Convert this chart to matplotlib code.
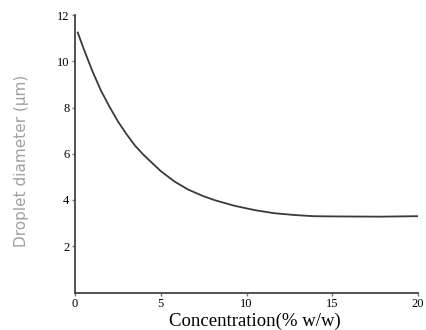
import numpy as np
import matplotlib
matplotlib.use("Agg")
import matplotlib.pyplot as plt

concentration = [0.16, 0.5, 1.0, 1.5, 2.0, 2.5, 3.0, 3.5, 4.0, 4.5, 5.0, 5.8,
                 6.6, 7.5, 8.2, 9.3, 10.5, 11.6, 12.8, 13.9, 15.0, 17.8, 20.0]
diameter = [11.24, 10.55, 9.6, 8.75, 8.05, 7.4, 6.85, 6.35, 5.95, 5.6, 5.25, 4.8,
            4.45, 4.16, 3.98, 3.75, 3.56, 3.43, 3.35, 3.30, 3.29, 3.28, 3.30]
x_ticks = [0, 5, 10, 15, 20]
y_ticks = [2, 4, 6, 8, 10, 12]

fig = plt.figure(figsize=(4.26, 3.30), dpi=100)
ax = fig.add_axes([75/426, 1-292.5/330, (418-75)/426, (292.5-15)/330])

ax.plot(concentration, diameter, color="#3a3a3a", lw=1.3, solid_joinstyle="round")

ax.set_xlim(0, 20)
ax.set_ylim(0, 12)
ax.set_xticks(x_ticks)
ax.set_yticks(y_ticks)
for s in ["top", "right"]:
    ax.spines[s].set_visible(False)
for s in ["left", "bottom"]:
    ax.spines[s].set_color("#444444")
    ax.spines[s].set_linewidth(1.3)
ax.tick_params(axis="both", direction="out", length=2.5, width=1, color="#777777",
               labelsize=9, pad=1.5)
for lab in ax.get_xticklabels() + ax.get_yticklabels():
    lab.set_family("Liberation Serif")

ax.set_xlabel("Concentration(% w/w)", family="Liberation Serif", fontsize=13.5)
ax.xaxis.set_label_coords(0.525, -0.103)
ax.set_ylabel("Droplet diameter (μm)", family="DejaVu Sans", fontsize=11, color="#a0a0a0")
ax.yaxis.set_label_coords(-0.157, 0.474)
ax.yaxis.label.set_verticalalignment("center")
ax.xaxis.label.set_verticalalignment("center")

fig.savefig("out.png", dpi=100)
